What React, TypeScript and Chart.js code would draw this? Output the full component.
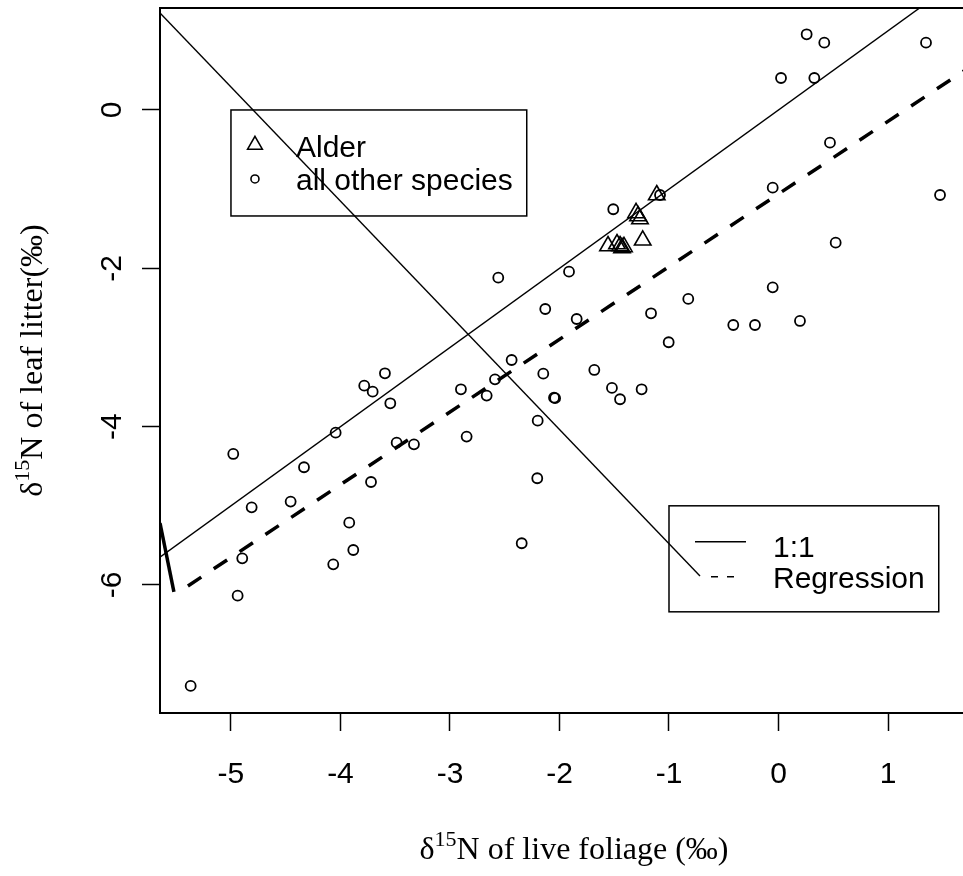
import React, { useEffect, useRef } from 'react';
import { Chart, registerables } from 'chart.js';

Chart.register(...registerables);

// Alder foliage vs. litter d15N
const alderX = [-1.112, -1.301, -1.283, -1.265, -1.240, -1.557, -1.475, -1.447, -1.429, -1.411];
const alderY = [-1.074, -1.301, -1.339, -1.377, -1.646, -1.718, -1.693, -1.718, -1.743, -1.730];

// All other species
const otherX = [
  -4.979, -4.333, -4.811, -4.455, -4.897, -4.939, -5.368, -3.594, -3.783, -3.706,
  -3.545, -4.044, -3.487, -3.329, -3.721, -3.920, -3.883, -4.066, -2.900, -2.665,
  -2.848, -2.437, -2.589, -1.509, -2.559, -1.913, -2.130, -1.843, -0.824, -1.164,
  -1.003, -0.413, -0.215, -2.148, -1.682, -1.521, -1.447, -1.250, -2.050, -2.040,
  -2.199, 0.257, 0.418, 1.347, 0.023, 0.327, 0.470, -0.053, 1.475, 0.522,
  -0.053, 0.196, -2.203, -2.345, -1.082,
];
const otherY = [
  -4.345, -4.513, -5.019, -4.947, -5.663, -6.135, -7.275, -3.326, -3.482, -3.558,
  -3.705, -4.076, -4.202, -4.223, -4.699, -5.213, -5.558, -5.739, -3.528, -3.608,
  -4.126, -3.158, -3.402, -1.254, -2.118, -2.042, -2.514, -2.640, -2.387, -2.568,
  -2.934, -2.716, -2.716, -3.331, -3.284, -3.511, -3.654, -3.528, -3.634, -3.640,
  -3.924, 0.956, 0.850, 0.850, 0.404, 0.404, -0.413, -0.981, -1.074, -1.676,
  -2.240, -2.665, -4.652, -5.473, -1.074,
];

// Reference and fitted lines
const oneToOneX = [-8, 3];
const oneToOneY = [-8, 3];
const regressionX = [-5.393, 1.913];
const regressionY = [-6.012, 0.695];
const stubX = [-5.648, -5.521];
const stubY = [-5.217, -6.088];
const guideX = [-5.648, -0.717];
const guideY = [1.225, -5.886];

// Axes
const xRange = [-5.648, 1.913];
const yRange = [-7.617, 1.288];
const xTicks = [-5, -4, -3, -2, -1, 0, 1];
const yTicks = [-6, -4, -2, 0];

// Legends
const speciesLabels = ['Alder', 'all other species'];
const speciesLegendAt = [-5, 0];
const lineLabels = ['1:1', 'Regression'];
const lineLegendAt = [-1, -5];

const SANS = '"Liberation Sans", Arial, Helvetica, sans-serif';
const SERIF = '"Liberation Serif", "Times New Roman", Times, serif';
const TEXT_SIZE = 30;
const TITLE_SIZE = 32;

const pts = (xs: number[], ys: number[]) => xs.map((x, i) => ({ x, y: ys[i] }));

function drawDeltaTitle(
  ctx: CanvasRenderingContext2D,
  rest: string,
  cx: number,
  baseline: number,
  rotate: boolean,
) {
  const main = `${TITLE_SIZE}px ${SERIF}`;
  const sup = `${Math.round(TITLE_SIZE * 0.7)}px ${SERIF}`;
  ctx.save();
  ctx.translate(cx, baseline);
  if (rotate) ctx.rotate(-Math.PI / 2);
  ctx.fillStyle = '#000';
  ctx.textAlign = 'left';
  ctx.textBaseline = 'alphabetic';
  ctx.font = main;
  const wd = ctx.measureText('\u03B4').width;
  const wr = ctx.measureText(rest).width;
  ctx.font = sup;
  const ws = ctx.measureText('15').width;
  let x = -(wd + ws + wr) / 2;
  ctx.font = main;
  ctx.fillText('\u03B4', x, 0);
  x += wd;
  ctx.font = sup;
  ctx.fillText('15', x, -TITLE_SIZE * 0.42);
  x += ws;
  ctx.font = main;
  ctx.fillText(rest, x, 0);
  ctx.restore();
}

const decorations = {
  id: 'decorations',
  afterDraw(chart: any) {
    const { ctx, chartArea } = chart;
    const xs = chart.scales.x;
    const ys = chart.scales.y;
    ctx.save();

    // frame top and right sides
    ctx.strokeStyle = '#000';
    ctx.lineWidth = 2;
    ctx.beginPath();
    ctx.moveTo(chartArea.left, chartArea.top);
    ctx.lineTo(chartArea.right, chartArea.top);
    ctx.lineTo(chartArea.right, chartArea.bottom);
    ctx.stroke();

    // axis titles
    drawDeltaTitle(ctx, 'N of live foliage (\u2030)', (chartArea.left + chartArea.right) / 2, chartArea.bottom + 146, false);
    drawDeltaTitle(ctx, 'N of leaf litter(\u2030)', chartArea.left - 118, (chartArea.top + chartArea.bottom) / 2, true);

    ctx.font = `${TEXT_SIZE}px ${SANS}`;
    ctx.textAlign = 'left';
    ctx.textBaseline = 'alphabetic';
    ctx.fillStyle = '#000';

    // species legend
    {
      const left = xs.getPixelForValue(speciesLegendAt[0]);
      const top = ys.getPixelForValue(speciesLegendAt[1]);
      const tw = Math.max(...speciesLabels.map((s) => ctx.measureText(s).width));
      const w = 65 + tw + 14;
      ctx.lineWidth = 1.5;
      ctx.strokeRect(left, top, w, 106);
      // triangle symbol
      const r = 8.5;
      const tx = left + 24;
      const ty = top + 35;
      ctx.beginPath();
      for (let k = 0; k < 3; k++) {
        const a = (k * 2 * Math.PI) / 3;
        const px = tx + Math.sin(a) * r;
        const py = ty - Math.cos(a) * r;
        if (k === 0) ctx.moveTo(px, py);
        else ctx.lineTo(px, py);
      }
      ctx.closePath();
      ctx.lineWidth = 1.6;
      ctx.stroke();
      ctx.beginPath();
      ctx.arc(left + 24, top + 69, 4, 0, Math.PI * 2);
      ctx.stroke();
      ctx.fillText(speciesLabels[0], left + 65, top + 47);
      ctx.fillText(speciesLabels[1], left + 65, top + 80);
    }

    // line legend
    {
      const left = xs.getPixelForValue(lineLegendAt[0]);
      const top = ys.getPixelForValue(lineLegendAt[1]);
      const tw = Math.max(...lineLabels.map((s) => ctx.measureText(s).width));
      const w = 104 + tw + 14;
      ctx.lineWidth = 1.5;
      ctx.strokeRect(left, top, w, 106);
      ctx.lineWidth = 1.4;
      ctx.beginPath();
      ctx.moveTo(left + 26, top + 36);
      ctx.lineTo(left + 77, top + 36);
      ctx.stroke();
      ctx.setLineDash([7, 9]);
      ctx.beginPath();
      ctx.moveTo(left + 42, top + 71);
      ctx.lineTo(left + 66, top + 71);
      ctx.stroke();
      ctx.setLineDash([]);
      ctx.fillText(lineLabels[0], left + 104, top + 51);
      ctx.fillText(lineLabels[1], left + 104, top + 82);
    }

    ctx.restore();
  },
};

export default function App() {
  const ref = useRef<HTMLCanvasElement>(null);

  useEffect(() => {
    if (!ref.current) return;
    const lineDs = (xs: number[], ys: number[], width: number, dash: number[] = []) => ({
      type: 'scatter' as const,
      data: pts(xs, ys),
      showLine: true,
      borderColor: '#000',
      borderWidth: width,
      borderDash: dash,
      borderCapStyle: 'butt' as const,
      pointRadius: 0,
      fill: false,
      tension: 0,
    });

    const chart = new Chart(ref.current, {
      type: 'scatter',
      data: {
        datasets: [
          {
            label: speciesLabels[0],
            data: pts(alderX, alderY),
            pointStyle: 'triangle',
            pointRadius: 9.5,
            pointBorderWidth: 1.6,
            pointBorderColor: '#000',
            pointBackgroundColor: 'rgba(0,0,0,0)',
          },
          {
            label: speciesLabels[1],
            data: pts(otherX, otherY),
            pointStyle: 'circle',
            pointRadius: 5,
            pointBorderWidth: 1.8,
            pointBorderColor: '#000',
            pointBackgroundColor: 'rgba(0,0,0,0)',
          },
          { label: lineLabels[0], ...lineDs(oneToOneX, oneToOneY, 1.4) },
          { label: lineLabels[1], ...lineDs(regressionX, regressionY, 3.5, [16, 15]) },
          { label: 'stub', ...lineDs(stubX, stubY, 3.5) },
          { label: 'guide', ...lineDs(guideX, guideY, 1.4) },
        ],
      },
      options: {
        animation: false,
        responsive: false,
        events: [],
        layout: { autoPadding: false, padding: { left: 0, right: 0, top: 8, bottom: 0 } },
        plugins: { legend: { display: false }, tooltip: { enabled: false } },
        scales: {
          x: {
            type: 'linear',
            position: 'bottom',
            min: xRange[0],
            max: xRange[1],
            afterBuildTicks: (s: any) => {
              s.ticks = xTicks.map((v) => ({ value: v }));
            },
            afterFit: (s: any) => {
              s.height = 163;
              s.paddingLeft = 0;
              s.paddingRight = 0;
            },
            grid: { drawOnChartArea: false, drawTicks: true, tickLength: 18, tickWidth: 1.5, tickColor: '#000' },
            border: { display: true, color: '#000', width: 2 },
            ticks: {
              color: '#000',
              font: { family: SANS, size: TEXT_SIZE },
              padding: 26,
              maxRotation: 0,
              minRotation: 0,
              autoSkip: false,
              callback: (v: any) => String(v),
            },
          },
          y: {
            type: 'linear',
            position: 'left',
            min: yRange[0],
            max: yRange[1],
            afterBuildTicks: (s: any) => {
              s.ticks = yTicks.map((v) => ({ value: v }));
            },
            afterFit: (s: any) => {
              s.width = 160;
              s.paddingTop = 0;
              s.paddingBottom = 0;
            },
            grid: { drawOnChartArea: false, drawTicks: true, tickLength: 18, tickWidth: 1.5, tickColor: '#000' },
            border: { display: true, color: '#000', width: 2 },
            ticks: {
              color: '#000',
              font: { family: SANS, size: TEXT_SIZE },
              padding: 15.5,
              minRotation: 90,
              maxRotation: 90,
              crossAlign: 'center',
              autoSkip: false,
              callback: (v: any) => String(v),
            },
          },
        },
      },
      plugins: [decorations],
    });
    return () => chart.destroy();
  }, []);

  return (
    <div
      style={{
        position: 'absolute',
        left: 0,
        top: 0,
        width: 963,
        height: 876,
        overflow: 'hidden',
        background: '#fff',
      }}
    >
      <canvas ref={ref} width={988} height={876} style={{ display: 'block', width: 988, height: 876 }} />
    </div>
  );
}
